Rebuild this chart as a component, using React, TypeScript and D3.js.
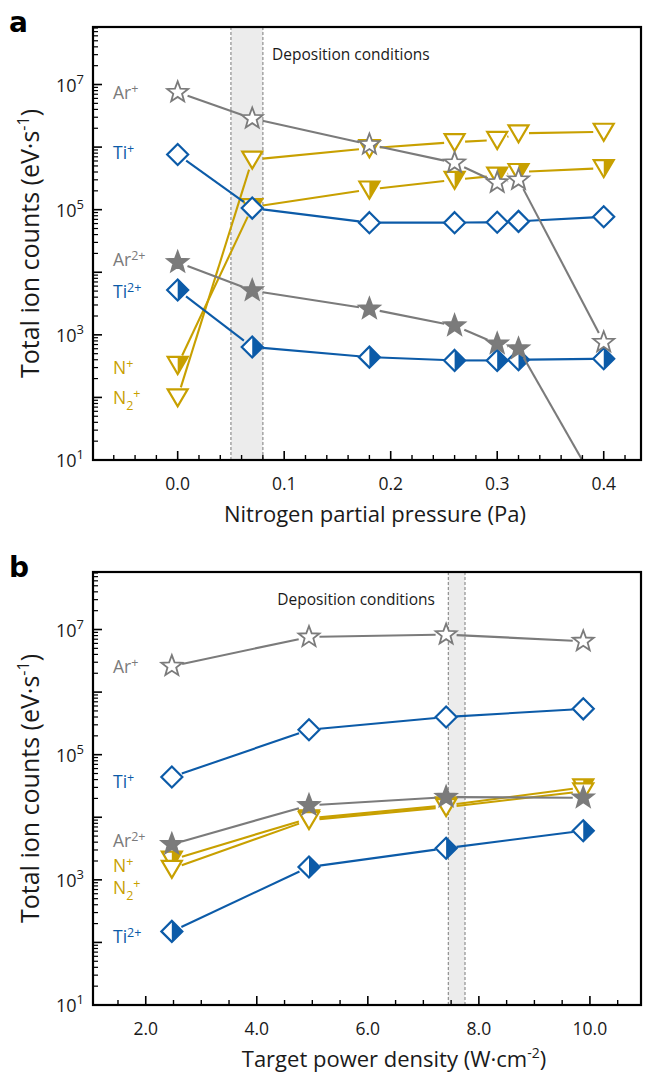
import React from 'react';
import * as d3 from 'd3';

// ---- panel a: nitrogen partial pressure sweep ----
const pressure = [0, 0.07, 0.18, 0.26, 0.3, 0.32, 0.4];
const arPlusA = [7.5e6, 2.86e6, 1.1e6, 5.6e5, 2.7e5, 3.0e5, 7.6e2];
const ar2PlusA = [1.44e4, 5.1e3, 2.6e3, 1.4e3, 7.2e2, 6.0e2, 2.5];
const tiPlusA = [7.6e5, 1.06e5, 6.2e4, 6.2e4, 6.3e4, 6.5e4, 7.7e4];
const ti2PlusA = [5.2e3, 6.4e2, 4.4e2, 3.9e2, 3.9e2, 4.0e2, 4.15e2];
const nPlusA = [3.3e2, 1.1e5, 2.1e5, 3.0e5, 3.5e5, 4.0e5, 4.6e5];
const n2PlusA = [1.0e2, 6.3e5, 9.6e5, 1.2e6, 1.3e6, 1.66e6, 1.76e6];
const pressureTicks = [0, 0.1, 0.2, 0.3, 0.4];
const bandA = [0.05, 0.08];

// ---- panel b: target power density sweep ----
const power = [2.47, 4.94, 7.41, 9.88];
const arPlusB = [2.6e6, 7.6e6, 8.3e6, 6.5e6];
const ar2PlusB = [3.7e3, 1.55e4, 2.1e4, 2.05e4];
const tiPlusB = [4.4e4, 2.5e5, 4.0e5, 5.4e5];
const ti2PlusB = [1.5e2, 1.6e3, 3.2e3, 6.1e3];
const nPlusB = [2.1e3, 9.6e3, 1.55e4, 3.0e4];
const n2PlusB = [1.5e3, 9.0e3, 1.45e4, 2.6e4];
const powerTicks = [2, 4, 6, 8, 10];
const bandB = [7.45, 7.75];

const yTickExps = [1, 3, 5, 7];

const GRAY = '#7b7b7b';
const BLUE = '#0c5ba8';
const GOLD = '#c8a000';
const FONT = "'Open Sans', 'Noto Sans', sans-serif";

const LEFT = 93;
const RIGHT = 641;
const PH = 433;

type Part = [string, 'n' | 'sup' | 'sub'];

const starPath = (ro: number, ri: number) => {
  const pts: string[] = [];
  for (let i = 0; i < 10; i++) {
    const r = i % 2 === 0 ? ro : ri;
    const a = -Math.PI / 2 + (i * Math.PI) / 5;
    pts.push(`${(r * Math.cos(a)).toFixed(2)},${(r * Math.sin(a)).toFixed(2)}`);
  }
  return 'M' + pts.join('L') + 'Z';
};

const Marker = ({ shape, fill, color }: { shape: string; fill: string; color: string }) => {
  const sw = 2.2;
  if (shape === 'diamond') {
    const r = 10.5;
    const outline = `M0,${-r}L${r},0L0,${r}L${-r},0Z`;
    return (
      <g>
        <path d={outline} fill="white" stroke="none" />
        {fill === 'half' && <path d={`M0,${-r}L${r},0L0,${r}Z`} fill={color} />}
        <path d={outline} fill="none" stroke={color} strokeWidth={sw} strokeLinejoin="miter" />
      </g>
    );
  }
  if (shape === 'tri') {
    const outline = 'M-10,-8L10,-8L0,9Z';
    return (
      <g>
        <path d={outline} fill="white" stroke="none" />
        {fill === 'half' && <path d="M0,-8L10,-8L0,9Z" fill={color} />}
        <path d={outline} fill="none" stroke={color} strokeWidth={sw} />
      </g>
    );
  }
  const s = starPath(11, 4.6);
  return <path d={s} fill={fill === 'full' ? color : 'white'} stroke={color} strokeWidth={1.8} strokeLinejoin="miter" />;
};

const Label = ({ parts, x, y, color }: { parts: Part[]; x: number; y: number; color: string }) => {
  let level = 0;
  return (
    <text x={x} y={y} fill={color} fontFamily={FONT} fontSize={17.5}>
      {parts.map(([t, k], i) => {
        const target = k === 'sup' ? -6 : k === 'sub' ? 6 : 0;
        const dy = target - level;
        level = target;
        return (
          <tspan key={i} dy={dy} fontSize={k === 'n' ? 17.5 : 12.5}>
            {t}
          </tspan>
        );
      })}
    </text>
  );
};

type Series = {
  values: number[];
  color: string;
  shape: string;
  fill: string;
  label: Part[];
  labelY: number;
};

const Panel = ({
  top,
  letter,
  xs,
  xDomain,
  xTicks,
  xMinorStep,
  band,
  series,
  xTitle,
  xTitleX,
  depoX,
  depoAnchor,
  clipId,
}: {
  top: number;
  letter: string;
  xs: number[];
  xDomain: [number, number];
  xTicks: number[];
  xMinorStep: number;
  band: number[];
  series: Series[];
  xTitle: React.ReactNode;
  xTitleX: number;
  depoX: number;
  depoAnchor: string;
  clipId: string;
}) => {
  const bottom = top + PH;
  const x = d3.scaleLinear().domain(xDomain).range([LEFT, RIGHT]);
  const y = d3.scaleLog().domain([10, 8.3e7]).range([bottom, top]);

  const minorX = d3
    .range(Math.ceil(xDomain[0] / xMinorStep), Math.floor(xDomain[1] / xMinorStep) + 1)
    .map((k) => k * xMinorStep)
    .filter((v) => !xTicks.some((t) => Math.abs(t - v) < 1e-9));

  const yMajor = d3.range(1, 8).map((e) => Math.pow(10, e)).filter((v) => v <= 8.3e7);
  const yMinor: number[] = [];
  for (let e = 1; e <= 7; e++) {
    for (let m = 2; m <= 9; m++) {
      const v = m * Math.pow(10, e);
      if (v < 8.3e7) yMinor.push(v);
    }
  }

  const gap = 10.5;
  const segs = (vals: number[]) => {
    const out: [number, number, number, number][] = [];
    for (let i = 0; i < vals.length - 1; i++) {
      const x1 = x(xs[i]);
      const y1 = y(vals[i]);
      const x2 = x(xs[i + 1]);
      const y2 = y(vals[i + 1]);
      const L = Math.hypot(x2 - x1, y2 - y1);
      if (L <= 2 * gap) continue;
      const ux = (x2 - x1) / L;
      const uy = (y2 - y1) / L;
      out.push([x1 + ux * gap, y1 + uy * gap, x2 - ux * gap, y2 - uy * gap]);
    }
    return out;
  };

  return (
    <g>
      <defs>
        <clipPath id={clipId}>
          <rect x={LEFT} y={top} width={RIGHT - LEFT} height={PH} />
        </clipPath>
      </defs>
      <text x={9} y={top + 5} fontFamily="'DejaVu Sans', sans-serif" fontWeight="bold" fontSize={28} fill="#000">
        {letter}
      </text>

      {/* deposition window */}
      <rect x={x(band[0])} y={top} width={x(band[1]) - x(band[0])} height={PH} fill="#ececec" />
      {band.map((b, i) => (
        <line key={i} x1={x(b)} x2={x(b)} y1={top} y2={bottom} stroke="#8f8f8f" strokeWidth={1.2} strokeDasharray="3,2" />
      ))}
      <text x={depoX} y={top + 33} textAnchor={depoAnchor} fontFamily={FONT} fontSize={15.5} fill="#1a1a1a">
        Deposition conditions
      </text>

      {/* data */}
      <g clipPath={`url(#${clipId})`}>
        {series.map((s, si) => (
          <g key={si}>
            {segs(s.values).map((sg, i) => (
              <line key={i} x1={sg[0]} y1={sg[1]} x2={sg[2]} y2={sg[3]} stroke={s.color} strokeWidth={2.1} />
            ))}
            {s.values.map((v, i) => (
              <g key={i} transform={`translate(${x(xs[i])},${y(v)})`}>
                <Marker shape={s.shape} fill={s.fill} color={s.color} />
              </g>
            ))}
          </g>
        ))}
      </g>

      {series.map((s, si) => (
        <Label key={si} parts={s.label} x={113} y={s.labelY} color={s.color} />
      ))}

      {/* axes */}
      {xTicks.map((t) => (
        <line key={'xM' + t} x1={x(t)} x2={x(t)} y1={bottom} y2={bottom - 9} stroke="#000" strokeWidth={1.6} />
      ))}
      {minorX.map((t) => (
        <line key={'xm' + t} x1={x(t)} x2={x(t)} y1={bottom} y2={bottom - 5} stroke="#000" strokeWidth={1.4} />
      ))}
      {xTicks.map((t) => (
        <text key={'xl' + t} x={x(t)} y={bottom + 30} textAnchor="middle" fontFamily={FONT} fontSize={17.5} fill="#1a1a1a">
          {d3.format('.1f')(t)}
        </text>
      ))}
      {yMajor.map((v) => (
        <line key={'yM' + v} x1={LEFT} x2={LEFT + 9} y1={y(v)} y2={y(v)} stroke="#000" strokeWidth={1.6} />
      ))}
      {yMinor.map((v) => (
        <line key={'ym' + v} x1={LEFT} x2={LEFT + 5} y1={y(v)} y2={y(v)} stroke="#000" strokeWidth={1.2} />
      ))}
      {yTickExps.map((e) => (
        <text key={'yl' + e} x={84} y={y(Math.pow(10, e)) + 7} textAnchor="end" fontFamily={FONT} fontSize={18} fill="#1a1a1a">
          10
          <tspan dy={-8} fontSize={13}>
            {e}
          </tspan>
        </text>
      ))}
      <rect x={LEFT} y={top} width={RIGHT - LEFT} height={PH} fill="none" stroke="#000" strokeWidth={2.2} />

      <text
        transform={`translate(39,${top + PH / 2}) rotate(-90)`}
        textAnchor="middle"
        fontFamily={FONT}
        fontSize={25}
        fill="#1a1a1a"
      >
        Total ion counts (eV·s
        <tspan dy={-10} fontSize={16}>
          -1
        </tspan>
        <tspan dy={10}>)</tspan>
      </text>
      <text x={xTitleX} y={bottom + 62} textAnchor="middle" fontFamily={FONT} fontSize={22} fill="#1a1a1a">
        {xTitle}
      </text>
    </g>
  );
};

export default function App() {
  const seriesA: Series[] = [
    { values: nPlusA, color: GOLD, shape: 'tri', fill: 'half', label: [['N', 'n'], ['+', 'sup']], labelY: 374 },
    { values: n2PlusA, color: GOLD, shape: 'tri', fill: 'none', label: [['N', 'n'], ['2', 'sub'], ['+', 'sup']], labelY: 404 },
    { values: tiPlusA, color: BLUE, shape: 'diamond', fill: 'none', label: [['Ti', 'n'], ['+', 'sup']], labelY: 159 },
    { values: ti2PlusA, color: BLUE, shape: 'diamond', fill: 'half', label: [['Ti', 'n'], ['2+', 'sup']], labelY: 298 },
    { values: arPlusA, color: GRAY, shape: 'star', fill: 'none', label: [['Ar', 'n'], ['+', 'sup']], labelY: 99 },
    { values: ar2PlusA, color: GRAY, shape: 'star', fill: 'full', label: [['Ar', 'n'], ['2+', 'sup']], labelY: 266 },
  ];
  const seriesB: Series[] = [
    { values: nPlusB, color: GOLD, shape: 'tri', fill: 'half', label: [['N', 'n'], ['+', 'sup']], labelY: 872 },
    { values: n2PlusB, color: GOLD, shape: 'tri', fill: 'none', label: [['N', 'n'], ['2', 'sub'], ['+', 'sup']], labelY: 894 },
    { values: tiPlusB, color: BLUE, shape: 'diamond', fill: 'none', label: [['Ti', 'n'], ['+', 'sup']], labelY: 788 },
    { values: ti2PlusB, color: BLUE, shape: 'diamond', fill: 'half', label: [['Ti', 'n'], ['2+', 'sup']], labelY: 943 },
    { values: arPlusB, color: GRAY, shape: 'star', fill: 'none', label: [['Ar', 'n'], ['+', 'sup']], labelY: 673 },
    { values: ar2PlusB, color: GRAY, shape: 'star', fill: 'full', label: [['Ar', 'n'], ['2+', 'sup']], labelY: 847 },
  ];

  return (
    <svg width={645} height={1078} style={{ position: 'absolute', left: 0, top: 0, background: '#fff' }}>
      <rect width={645} height={1078} fill="#fff" />
      <Panel
        top={27}
        letter="a"
        xs={pressure}
        xDomain={[-0.0795, 0.435]}
        xTicks={pressureTicks}
        xMinorStep={0.02}
        band={bandA}
        series={seriesA}
        xTitle="Nitrogen partial pressure (Pa)"
        xTitleX={375}
        depoX={272}
        depoAnchor="start"
        clipId="clipA"
      />
      <Panel
        top={572}
        letter="b"
        xs={power}
        xDomain={[1.05, 10.92]}
        xTicks={powerTicks}
        xMinorStep={0.5}
        band={bandB}
        series={seriesB}
        xTitle={
          <>
            Target power density (W·cm
            <tspan dy={-9} fontSize={14}>
              -2
            </tspan>
            <tspan dy={9}>)</tspan>
          </>
        }
        xTitleX={394}
        depoX={435}
        depoAnchor="end"
        clipId="clipB"
      />
    </svg>
  );
}
